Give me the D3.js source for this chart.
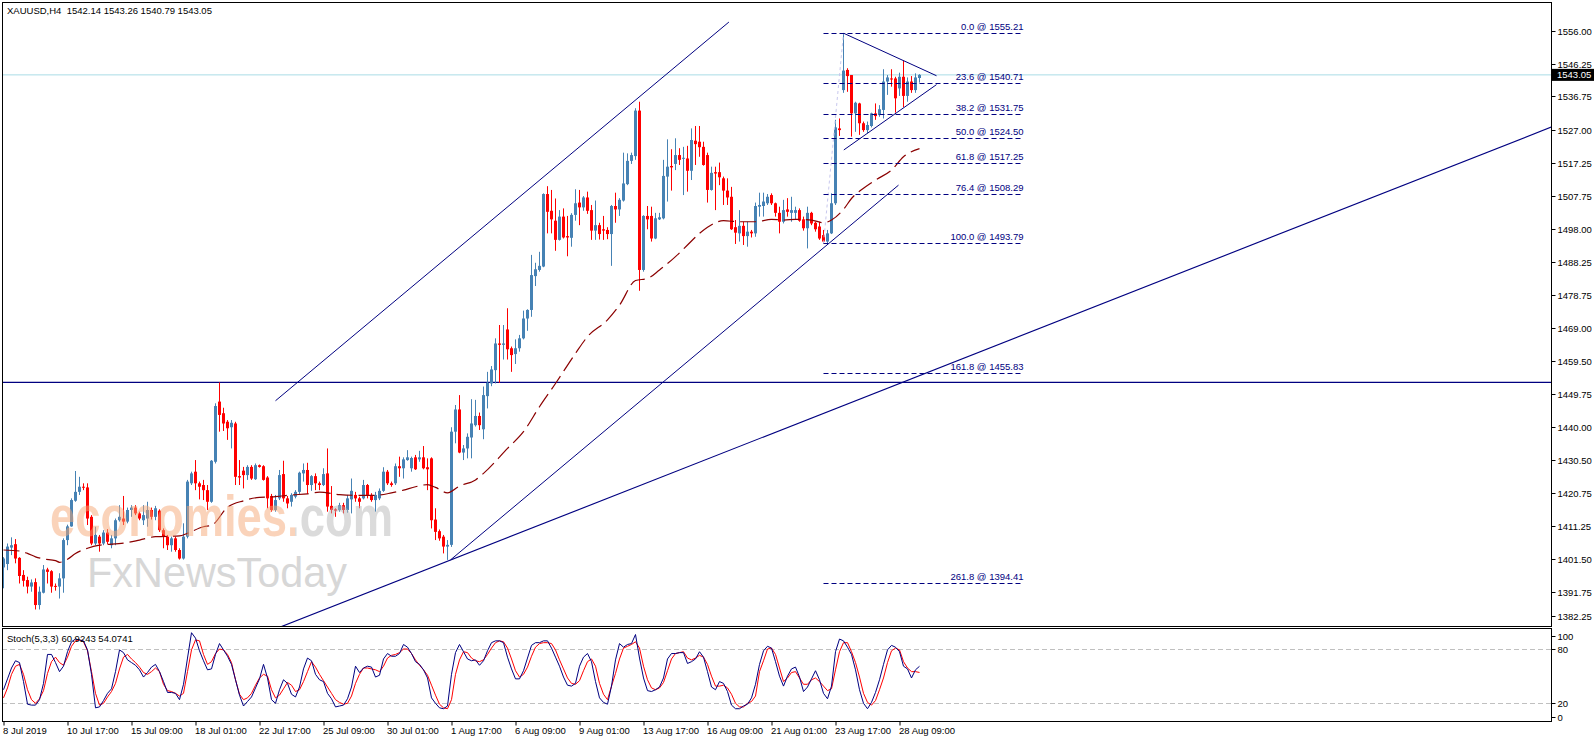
<!DOCTYPE html>
<html>
<head>
<meta charset="utf-8">
<script src="https://cdn.jsdelivr.net/npm/d3@7"></script>
<style>
  body { margin: 0; background: #fff; }
  svg { display: block; font-family: "Liberation Sans", Arial, sans-serif; }
</style>
</head>
<body>
<div id="chart"></div>
<script>
// Dados
const symbol = "XAUUSD,H4";
const lastQuote = [1542.14, 1543.26, 1540.79, 1543.05];
const stochName = "Stoch(5,3,3)";
const stochLast = ["60.9243", "54.0741"];

const opens = [
  1399.0, 1400.0, 1404.8, 1405.8, 1401.8, 1396.8, 1395.3, 1393.4, 1394.7, 1388.0,
  1391.6, 1398.4, 1397.9, 1393.6, 1393.4, 1395.8, 1407.0, 1411.0, 1418.5, 1421.1,
  1422.6, 1422.4, 1413.8, 1406.0, 1408.0, 1406.0, 1409.2, 1405.5, 1407.5, 1412.8,
  1413.3, 1412.4, 1415.8, 1416.5, 1414.8, 1412.8, 1413.3, 1415.8, 1413.8, 1415.6,
  1409.9, 1408.0, 1405.5, 1407.5, 1404.1, 1401.6, 1408.0, 1423.6, 1427.0, 1423.6,
  1423.1, 1421.6, 1418.2, 1429.9, 1447.5, 1444.1, 1441.6, 1440.0, 1441.1, 1425.7,
  1427.3, 1426.0, 1428.4, 1424.8, 1428.9, 1428.6, 1425.3, 1419.9, 1415.8, 1419.2,
  1426.3, 1419.2, 1418.2, 1419.7, 1421.1, 1426.5, 1427.5, 1423.1, 1425.7, 1423.6,
  1423.1, 1426.5, 1417.0, 1416.0, 1415.8, 1417.2, 1415.8, 1418.9, 1420.2, 1419.2,
  1419.2, 1423.1, 1420.2, 1418.7, 1419.2, 1421.4, 1427.0, 1423.6, 1423.6, 1428.6,
  1428.0, 1430.4, 1428.0, 1431.2, 1430.6, 1431.2, 1428.3, 1430.9, 1413.0, 1409.6,
  1408.0, 1405.1, 1405.6, 1438.7, 1445.2, 1432.6, 1433.8, 1437.0, 1440.6, 1443.3,
  1439.4, 1449.1, 1452.8, 1456.7, 1464.5, 1464.1, 1468.6, 1463.1, 1461.4, 1463.1,
  1466.0, 1471.8, 1474.3, 1484.2, 1486.0, 1487.0, 1508.2, 1503.3, 1500.4, 1494.8,
  1501.6, 1495.9, 1495.4, 1502.1, 1505.7, 1504.3, 1507.2, 1503.5, 1497.5, 1499.1,
  1497.9, 1497.7, 1496.5, 1504.7, 1503.7, 1506.3, 1511.1, 1517.9, 1519.3, 1532.6,
  1486.0, 1501.8, 1501.8, 1495.2, 1500.8, 1501.1, 1513.3, 1516.4, 1517.0, 1519.6,
  1518.5, 1518.6, 1515.0, 1523.8, 1523.5, 1522.0, 1519.6, 1509.4, 1514.6, 1514.6,
  1512.8, 1509.2, 1507.4, 1498.5, 1496.7, 1498.9, 1495.9, 1497.2, 1496.7, 1504.5,
  1504.7, 1505.5, 1507.9, 1505.5, 1502.7, 1500.1, 1503.7, 1502.7, 1502.7, 1503.5,
  1500.8, 1498.2, 1502.7, 1499.8, 1498.7, 1496.2, 1494.3, 1496.7, 1505.5, 1527.4,
  1538.6, 1544.5, 1543.0, 1531.8, 1534.7, 1528.9, 1526.9, 1528.1, 1531.8, 1531.3,
  1532.8, 1541.1, 1542.0, 1542.0, 1539.1, 1542.5, 1536.9, 1541.1, 1538.6, 1542.14
];
const highs = [
  1402.0, 1406.0, 1407.8, 1407.3, 1402.0, 1398.2, 1396.3, 1395.5, 1395.8, 1393.4,
  1399.7, 1398.9, 1398.2, 1394.3, 1397.3, 1407.5, 1411.5, 1419.2, 1427.2, 1425.5,
  1423.6, 1423.6, 1414.3, 1410.9, 1408.5, 1409.9, 1410.2, 1408.5, 1413.3, 1417.2,
  1419.9, 1416.5, 1417.2, 1417.2, 1415.3, 1417.2, 1418.2, 1416.5, 1417.0, 1416.0,
  1410.4, 1408.5, 1408.0, 1408.0, 1404.6, 1411.9, 1424.6, 1427.0, 1430.4, 1424.1,
  1424.6, 1423.1, 1430.4, 1447.0, 1453.1, 1445.7, 1442.1, 1442.1, 1441.6, 1430.4,
  1428.4, 1428.9, 1428.9, 1429.4, 1429.1, 1428.9, 1425.7, 1420.5, 1420.2, 1427.5,
  1430.2, 1419.9, 1420.7, 1421.6, 1427.0, 1429.4, 1429.6, 1426.0, 1426.5, 1424.1,
  1428.0, 1433.8, 1422.8, 1416.3, 1417.9, 1417.9, 1420.2, 1425.0, 1421.1, 1419.7,
  1424.6, 1423.4, 1420.7, 1421.1, 1422.1, 1428.3, 1427.5, 1424.1, 1429.4, 1431.4,
  1431.2, 1433.3, 1431.4, 1431.9, 1433.1, 1434.5, 1430.9, 1431.2, 1416.3, 1410.1,
  1408.5, 1407.0, 1440.0, 1446.5, 1449.4, 1434.8, 1438.2, 1448.2, 1448.0, 1444.3,
  1451.9, 1456.2, 1457.9, 1466.0, 1469.9, 1469.9, 1474.8, 1463.6, 1465.7, 1467.0,
  1474.1, 1474.5, 1490.4, 1488.1, 1491.3, 1508.4, 1510.5, 1509.4, 1506.9, 1503.5,
  1504.0, 1501.8, 1502.6, 1509.6, 1509.4, 1507.6, 1508.9, 1505.0, 1506.3, 1499.8,
  1501.8, 1498.5, 1505.0, 1508.6, 1507.0, 1520.3, 1520.1, 1520.3, 1533.3, 1535.2,
  1502.0, 1504.7, 1504.5, 1502.7, 1502.7, 1518.2, 1524.2, 1521.3, 1524.5, 1521.6,
  1522.0, 1522.3, 1527.4, 1528.1, 1528.1, 1523.5, 1520.3, 1516.2, 1516.2, 1517.4,
  1513.3, 1512.8, 1510.3, 1500.6, 1503.5, 1500.1, 1500.1, 1497.7, 1505.7, 1508.6,
  1508.6, 1508.2, 1508.4, 1505.7, 1504.5, 1506.5, 1507.0, 1507.4, 1504.5, 1504.0,
  1501.6, 1504.5, 1503.0, 1500.1, 1500.1, 1497.7, 1497.7, 1508.4, 1529.9, 1530.3,
  1555.21, 1545.0, 1543.0, 1535.2, 1534.9, 1529.4, 1529.4, 1532.0, 1534.7, 1534.2,
  1544.7, 1543.0, 1544.7, 1542.5, 1543.7, 1547.2, 1542.3, 1542.7, 1543.5, 1543.26
];
const lows = [
  1392.9, 1398.2, 1402.6, 1400.2, 1394.3, 1393.4, 1391.4, 1391.9, 1386.7, 1386.7,
  1391.4, 1394.3, 1391.6, 1392.2, 1389.9, 1391.6, 1405.5, 1410.9, 1418.2, 1420.2,
  1421.6, 1411.4, 1405.5, 1405.5, 1403.6, 1405.5, 1405.8, 1404.6, 1405.5, 1412.4,
  1411.4, 1411.9, 1413.8, 1414.3, 1412.8, 1411.4, 1410.9, 1413.0, 1412.8, 1409.4,
  1404.6, 1404.1, 1403.6, 1403.6, 1401.3, 1401.3, 1407.5, 1423.1, 1421.6, 1418.9,
  1418.7, 1415.8, 1417.9, 1429.4, 1438.7, 1438.9, 1436.3, 1433.8, 1423.1, 1423.1,
  1422.1, 1424.6, 1424.6, 1424.6, 1428.2, 1424.4, 1416.3, 1415.3, 1415.3, 1418.7,
  1418.2, 1416.3, 1416.8, 1419.2, 1420.5, 1424.1, 1420.5, 1421.4, 1421.6, 1421.6,
  1422.8, 1415.3, 1414.8, 1413.8, 1415.3, 1414.8, 1415.0, 1414.8, 1418.2, 1416.3,
  1418.9, 1419.2, 1418.2, 1415.3, 1418.7, 1421.1, 1423.1, 1422.6, 1423.1, 1425.5,
  1425.0, 1430.2, 1427.0, 1427.5, 1429.9, 1427.7, 1421.6, 1410.4, 1407.0, 1406.8,
  1403.1, 1401.2, 1405.0, 1435.3, 1432.4, 1430.4, 1430.9, 1430.9, 1440.2, 1439.2,
  1436.5, 1445.5, 1452.0, 1452.8, 1453.0, 1459.8, 1459.8, 1456.2, 1458.5, 1462.1,
  1465.7, 1468.2, 1472.3, 1481.3, 1485.5, 1486.8, 1496.7, 1496.7, 1491.6, 1494.6,
  1495.2, 1490.0, 1492.8, 1500.4, 1499.1, 1503.3, 1502.4, 1494.8, 1494.8, 1494.9,
  1494.8, 1495.0, 1487.2, 1499.8, 1501.8, 1506.0, 1510.8, 1517.0, 1518.2, 1479.9,
  1485.5, 1497.9, 1494.3, 1495.0, 1500.6, 1500.8, 1506.0, 1509.2, 1515.2, 1516.7,
  1507.9, 1508.9, 1512.3, 1516.7, 1519.1, 1516.5, 1505.7, 1509.2, 1503.5, 1510.8,
  1505.0, 1505.0, 1497.7, 1493.6, 1494.3, 1493.3, 1492.8, 1495.5, 1495.7, 1501.6,
  1501.6, 1505.0, 1505.0, 1501.6, 1496.7, 1499.6, 1501.6, 1500.1, 1500.6, 1500.1,
  1497.5, 1492.3, 1499.1, 1497.2, 1494.8, 1493.79, 1493.8, 1496.5, 1505.0, 1525.2,
  1537.8, 1538.1, 1525.0, 1526.4, 1525.5, 1526.4, 1526.0, 1527.7, 1529.9, 1530.8,
  1530.3, 1537.2, 1539.6, 1532.0, 1536.9, 1533.6, 1535.2, 1537.8, 1537.8, 1540.79
];
const closes = [
  1401.6, 1405.1, 1405.5, 1401.6, 1396.5, 1395.1, 1393.4, 1394.6, 1388.0, 1391.9,
  1398.4, 1397.7, 1393.4, 1393.4, 1395.8, 1407.0, 1411.0, 1418.7, 1421.1, 1422.6,
  1422.4, 1413.3, 1406.0, 1408.5, 1406.0, 1409.2, 1406.5, 1407.5, 1412.8, 1413.8,
  1412.4, 1415.8, 1416.5, 1414.8, 1413.3, 1414.3, 1415.8, 1413.8, 1416.3, 1409.9,
  1408.0, 1405.5, 1407.5, 1404.1, 1401.6, 1408.0, 1424.1, 1426.5, 1423.6, 1422.6,
  1421.6, 1418.2, 1430.2, 1446.2, 1443.6, 1441.1, 1439.7, 1441.3, 1425.5, 1425.3,
  1426.0, 1428.4, 1425.0, 1428.9, 1428.4, 1424.6, 1419.2, 1415.8, 1418.7, 1426.0,
  1419.2, 1417.7, 1420.2, 1421.1, 1426.7, 1427.5, 1423.1, 1425.7, 1423.6, 1423.1,
  1426.3, 1416.8, 1415.8, 1415.6, 1417.2, 1415.8, 1419.2, 1421.4, 1419.2, 1418.2,
  1423.1, 1420.2, 1418.7, 1420.2, 1421.4, 1427.0, 1423.6, 1423.1, 1428.6, 1428.0,
  1430.6, 1431.2, 1431.0, 1427.7, 1431.2, 1428.0, 1427.7, 1412.8, 1409.4, 1407.5,
  1405.1, 1405.6, 1438.7, 1445.2, 1432.6, 1433.8, 1437.2, 1441.1, 1443.3, 1440.6,
  1449.4, 1453.0, 1456.9, 1464.5, 1464.1, 1464.5, 1462.8, 1461.1, 1463.1, 1466.0,
  1471.8, 1474.3, 1484.5, 1486.2, 1487.2, 1508.2, 1503.0, 1500.8, 1494.8, 1501.6,
  1495.5, 1495.5, 1502.1, 1505.5, 1504.3, 1507.2, 1503.3, 1497.5, 1499.1, 1496.5,
  1497.5, 1496.5, 1504.7, 1503.7, 1506.5, 1511.3, 1517.9, 1519.6, 1532.6, 1486.0,
  1501.8, 1500.8, 1495.2, 1501.1, 1501.4, 1513.5, 1516.2, 1516.0, 1519.6, 1518.2,
  1518.8, 1515.0, 1524.0, 1522.8, 1521.9, 1516.7, 1509.4, 1514.4, 1514.2, 1513.1,
  1509.2, 1507.2, 1497.9, 1496.9, 1498.9, 1495.9, 1497.2, 1496.7, 1504.7, 1505.0,
  1506.0, 1507.4, 1505.5, 1502.7, 1500.1, 1503.5, 1503.0, 1503.5, 1503.5, 1500.4,
  1498.2, 1502.7, 1499.6, 1497.9, 1495.2, 1494.3, 1496.7, 1505.5, 1527.7, 1526.9,
  1544.3, 1542.7, 1531.8, 1534.9, 1528.9, 1526.9, 1528.4, 1531.8, 1531.0, 1533.0,
  1541.1, 1542.3, 1541.7, 1536.2, 1542.5, 1536.9, 1541.1, 1538.6, 1542.3, 1543.05
];

// Média móvel: [barra, preço]
const maPoints = [
  [0, 1404.1], [4, 1403.8], [6, 1403.1], [8, 1402.1], [10, 1401.5], [13, 1401.0],
  [14, 1400.5], [16, 1401.4], [18, 1403.1], [21, 1404.6], [24, 1405.5], [30, 1406.1],
  [34, 1407.0], [38, 1408.0], [44, 1408.2], [46, 1409.0], [50, 1410.9], [52, 1411.3],
  [56, 1416.6], [60, 1418.5], [64, 1419.5], [68, 1419.7], [72, 1420.2], [76, 1420.5],
  [79, 1421.0], [84, 1420.3], [88, 1420.1], [93, 1420.1], [97, 1420.8], [100, 1421.6],
  [103, 1422.6], [106, 1423.2], [108, 1422.4], [111, 1420.8], [114, 1422.8], [118, 1424.6],
  [120, 1426.5], [126, 1433.8], [130, 1438.7], [134, 1446.0], [138, 1452.8], [143, 1461.6],
  [146, 1466.5], [151, 1471.4], [154, 1475.7], [158, 1482.9], [161, 1483.5], [164, 1486.0],
  [168, 1489.9], [171, 1493.3], [174, 1496.7], [176, 1498.5], [180, 1500.4], [184, 1500.1],
  [188, 1500.1], [192, 1500.8], [195, 1500.6], [198, 1500.8], [202, 1500.6], [205, 1499.8],
  [207, 1500.6], [210, 1503.7], [212, 1506.9], [215, 1509.9], [218, 1512.3], [222, 1515.2],
  [225, 1519.1], [229, 1521.5]
];

const stochK = [
  35, 47, 59, 67, 65, 44, 19, 18, 18, 24,
  42, 74, 74, 65, 55, 61, 77, 88, 91, 90,
  89, 79, 52, 15, 16, 23, 31, 36, 55, 79,
  76, 68, 65, 62, 57, 49, 54, 60, 63, 55,
  44, 32, 32, 31, 24, 41, 70, 98, 92, 78,
  67, 57, 58, 74, 86, 79, 72, 63, 46, 29,
  17, 22, 27, 37, 47, 63, 48, 24, 20, 35,
  46, 42, 30, 27, 38, 58, 70, 67, 52, 46,
  44, 31, 25, 16, 17, 18, 25, 38, 61, 54,
  59, 61, 60, 49, 51, 69, 75, 72, 72, 75,
  85, 82, 75, 66, 63, 57, 48, 26, 20, 15,
  14, 17, 52, 76, 85, 77, 69, 67, 68, 62,
  67, 78, 87, 89, 89, 87, 71, 58, 47, 47,
  56, 70, 84, 87, 87, 89, 89, 81, 71, 61,
  49, 40, 39, 42, 61, 71, 75, 66, 44, 26,
  21, 19, 39, 68, 86, 82, 85, 86, 96, 70,
  48, 34, 33, 35, 38, 48, 69, 75, 75, 76,
  76, 64, 66, 69, 77, 71, 55, 38, 35, 44,
  42, 33, 18, 14, 14, 17, 19, 26, 41, 63,
  78, 83, 81, 66, 50, 39, 50, 58, 60, 49,
  33, 38, 47, 56, 46, 31, 25, 39, 77, 91,
  89, 82, 74, 57, 35, 20, 14, 21, 32, 46,
  63, 79, 84, 82, 77, 61, 58, 48, 57, 60.92
];
const stochD = [
  26, 37, 52, 61, 63, 52, 35, 24, 20, 25,
  34, 53, 66, 71, 65, 62, 71, 83, 89, 90,
  88, 78, 55, 31, 18, 20, 27, 33, 42, 58,
  71, 74, 69, 65, 60, 54, 52, 55, 59, 55,
  41, 34, 33, 31, 28, 31, 55, 79, 90, 89,
  74, 63, 66, 75, 80, 79, 74, 65, 46, 30,
  24, 26, 31, 40, 48, 52, 50, 35, 26, 29,
  36, 43, 40, 33, 35, 44, 55, 66, 60, 52,
  45, 38, 31, 24, 21, 19, 20, 28, 42, 52,
  59, 59, 58, 57, 55, 61, 70, 73, 74, 76,
  80, 80, 75, 68, 62, 57, 51, 40, 29, 19,
  15, 14, 24, 52, 68, 77, 76, 70, 67, 66,
  68, 74, 81, 87, 89, 88, 81, 69, 56, 49,
  52, 60, 72, 82, 86, 87, 87, 86, 79, 68,
  58, 48, 42, 41, 45, 56, 66, 69, 61, 42,
  30, 24, 39, 53, 69, 81, 83, 85, 88, 81,
  61, 46, 37, 35, 37, 43, 56, 69, 75, 76,
  77, 70, 68, 70, 73, 71, 63, 50, 39, 39,
  40, 37, 30, 20, 16, 16, 20, 22, 28, 55,
  67, 80, 81, 74, 59, 44, 48, 54, 55, 48,
  41, 41, 46, 48, 44, 39, 34, 36, 57, 77,
  87, 87, 77, 65, 49, 31, 21, 18, 23, 35,
  48, 65, 78, 81, 79, 66, 59, 55, 55, 54.07
];

const priceTicks = [1556.00, 1546.25, 1536.75, 1527.00, 1517.25, 1507.75, 1498.00, 1488.25, 1478.75,
  1469.00, 1459.50, 1449.75, 1440.00, 1430.50, 1420.75, 1411.25, 1401.50, 1391.75, 1382.25];
const stochTicks = [100, 80, 20, 0];
const stochLevels = [80, 20];
const dateLabels = ["8 Jul 2019", "10 Jul 17:00", "15 Jul 09:00", "18 Jul 01:00", "22 Jul 17:00",
  "25 Jul 09:00", "30 Jul 01:00", "1 Aug 17:00", "6 Aug 09:00", "9 Aug 01:00", "13 Aug 17:00",
  "16 Aug 09:00", "21 Aug 01:00", "23 Aug 17:00", "28 Aug 09:00"];
const barsPerLabel = 16;

// Objetos desenhados: linhas de tendência [barra, preço]
const trendLines = [
  [[68, 1447.75], [181.35, 1558.5]],
  [[111.75, 1401.2], [223.75, 1510.8]],
  [[69.25, 1381.6], [387, 1527.8]],
  [[210.08, 1555.2], [233.25, 1542.8]],
  [[210.08, 1521.1], [233.25, 1540.2]]
];
const horizontalLevel = 1453.1;
const fibLevels = [0.0, 23.6, 38.2, 50.0, 61.8, 76.4, 100.0, 161.8, 261.8];
const fibPrices = [1555.21, 1540.71, 1531.75, 1524.50, 1517.25, 1508.29, 1493.79, 1455.83, 1394.41];
const fibBars = [205, 255];
const fibAnchor = [[205, 1493.79], [210, 1555.21]];

// Configurações
const W = 1596, H = 743;
const panel = { left: 2, right: 1551, top: 2, bottom: 626, subTop: 628, subBottom: 721 };
const upColor = "#4682B4", downColor = "#FF0000", objColor = "#000080";
const fontSize = "9.5px";

const svg = d3.select("#chart")
    .append("svg")
    .attr("width", W)
    .attr("height", H);

// Escalas
const x = d3.scaleLinear().domain([0, 229]).range([3.5, 919.5]);
const y = d3.scaleLinear().domain([1556, 1382.25]).range([30.6, 624.7]);
const ys = d3.scaleLinear().domain([100, 0]).range([630.9, 721.4]);

const defs = svg.append("defs");
defs.append("clipPath").attr("id", "clipMain").append("rect")
    .attr("x", panel.left).attr("y", panel.top)
    .attr("width", panel.right - panel.left).attr("height", panel.bottom - panel.top);
defs.append("clipPath").attr("id", "clipSub").append("rect")
    .attr("x", panel.left).attr("y", panel.subTop)
    .attr("width", panel.right - panel.left).attr("height", panel.subBottom - panel.subTop);

// Gradiente da marca d'água: laranja em "economies", cinza em ".com"
const grad = defs.append("linearGradient")
    .attr("id", "wmGrad")
    .attr("gradientUnits", "userSpaceOnUse")
    .attr("x1", 50).attr("x2", 393).attr("y1", 0).attr("y2", 0);
grad.append("stop").attr("offset", 0.715).attr("stop-color", "#f7a877");
grad.append("stop").attr("offset", 0.715).attr("stop-color", "#b8b8b8");

const gMain = svg.append("g").attr("clip-path", "url(#clipMain)");
const gSub = svg.append("g").attr("clip-path", "url(#clipSub)");

// Linha do preço atual
gMain.append("line")
    .attr("x1", panel.left).attr("x2", panel.right)
    .attr("y1", y(lastQuote[3])).attr("y2", y(lastQuote[3]))
    .attr("stroke", "#a9dce6").attr("stroke-width", 1);

// Linha horizontal
gMain.append("line")
    .attr("x1", panel.left).attr("x2", panel.right)
    .attr("y1", y(horizontalLevel)).attr("y2", y(horizontalLevel))
    .attr("stroke", objColor).attr("stroke-width", 1.2);

// Velas
const bars = closes.map((c, i) => ({ i, o: opens[i], h: highs[i], l: lows[i], c }));
const color = d => d.c >= d.o ? upColor : downColor;

gMain.selectAll(".wick")
    .data(bars)
    .enter()
    .append("line")
    .attr("x1", d => x(d.i)).attr("x2", d => x(d.i))
    .attr("y1", d => y(d.h)).attr("y2", d => y(d.l))
    .attr("stroke", color)
    .attr("stroke-width", 1);

gMain.selectAll(".body")
    .data(bars)
    .enter()
    .append("rect")
    .attr("x", d => x(d.i) - 1.5)
    .attr("width", 3)
    .attr("y", d => y(Math.max(d.o, d.c)))
    .attr("height", d => Math.max(1, Math.abs(y(d.o) - y(d.c))))
    .attr("fill", color);

// Média móvel
gMain.append("path")
    .datum(maPoints)
    .attr("fill", "none")
    .attr("stroke", "#8B0000")
    .attr("stroke-width", 1.2)
    .attr("stroke-dasharray", "16,6")
    .attr("d", d3.line().x(d => x(d[0])).y(d => y(d[1])).curve(d3.curveMonotoneX));

// Linhas de tendência
gMain.selectAll(".trend")
    .data(trendLines)
    .enter()
    .append("line")
    .attr("x1", d => x(d[0][0])).attr("y1", d => y(d[0][1]))
    .attr("x2", d => x(d[1][0])).attr("y2", d => y(d[1][1]))
    .attr("stroke", objColor)
    .attr("stroke-width", (d, i) => i === 2 ? 1.15 : 1);

// Fibonacci
gMain.append("line")
    .attr("x1", x(fibAnchor[0][0])).attr("y1", y(fibAnchor[0][1]))
    .attr("x2", x(fibAnchor[1][0])).attr("y2", y(fibAnchor[1][1]))
    .attr("stroke", "#c8c8ee").attr("stroke-dasharray", "3,3");

gMain.selectAll(".fib")
    .data(fibPrices)
    .enter()
    .append("line")
    .attr("x1", x(fibBars[0])).attr("x2", x(fibBars[1]))
    .attr("y1", d => Math.round(y(d)) + 0.5).attr("y2", d => Math.round(y(d)) + 0.5)
    .attr("stroke", objColor)
    .attr("stroke-width", 1.2)
    .attr("stroke-dasharray", "5,3");

gMain.selectAll(".fibLabel")
    .data(fibPrices)
    .enter()
    .append("text")
    .attr("x", x(fibBars[1]))
    .attr("y", d => y(d) - 3)
    .attr("text-anchor", "end")
    .attr("font-size", fontSize)
    .attr("fill", objColor)
    .text((d, i) => `${fibLevels[i].toFixed(1)} @ ${d.toFixed(2)}`);

// Estocástico
gSub.selectAll(".level")
    .data(stochLevels)
    .enter()
    .append("line")
    .attr("x1", panel.left).attr("x2", panel.right)
    .attr("y1", d => Math.round(ys(d)) + 0.5).attr("y2", d => Math.round(ys(d)) + 0.5)
    .attr("stroke", "#c0c0c0")
    .attr("stroke-dasharray", "5,3");

const stochLine = d3.line().x((d, i) => x(i)).y(d => ys(d));
gSub.append("path").datum(stochD)
    .attr("fill", "none").attr("stroke", "#FF0000").attr("stroke-width", 1)
    .attr("d", stochLine);
gSub.append("path").datum(stochK)
    .attr("fill", "none").attr("stroke", "#000080").attr("stroke-width", 1)
    .attr("d", stochLine);

// Marca d'água
const wm = svg.append("g").attr("opacity", 0.5).style("pointer-events", "none");
wm.append("text")
    .attr("x", 50).attr("y", 536)
    .attr("font-size", 58)
    .attr("font-weight", "bold")
    .attr("textLength", 343).attr("lengthAdjust", "spacingAndGlyphs")
    .attr("fill", "url(#wmGrad)")
    .text("economies.com");
wm.append("text")
    .attr("x", 87).attr("y", 587)
    .attr("font-size", 43)
    .attr("textLength", 260).attr("lengthAdjust", "spacingAndGlyphs")
    .attr("fill", "#b0b0b0")
    .text("FxNewsToday");

// Molduras
svg.append("rect")
    .attr("x", panel.left + 0.5).attr("y", panel.top + 0.5)
    .attr("width", panel.right - panel.left).attr("height", panel.bottom - panel.top)
    .attr("fill", "none").attr("stroke", "#000");
svg.append("rect")
    .attr("x", panel.left + 0.5).attr("y", panel.subTop + 0.5)
    .attr("width", panel.right - panel.left).attr("height", panel.subBottom - panel.subTop)
    .attr("fill", "none").attr("stroke", "#000");

// Eixos
const yAxis = d3.axisRight(y).tickValues(priceTicks).tickSize(4).tickPadding(2)
    .tickFormat(d3.format(".2f"));
const gy = svg.append("g")
    .attr("transform", `translate(${panel.right + 0.5},0)`)
    .call(yAxis);
gy.select(".domain").remove();
gy.selectAll(".tick")
    .attr("transform", d => `translate(0,${Math.round(Math.min(y(d), panel.bottom - 10)) + 0.5})`);
gy.selectAll("text").attr("font-size", fontSize).attr("font-family", "Liberation Sans, Arial");

const ysAxis = d3.axisRight(ys).tickValues(stochTicks).tickSize(4).tickPadding(2);
const gys = svg.append("g")
    .attr("transform", `translate(${panel.right + 0.5},0)`)
    .call(ysAxis);
gys.select(".domain").remove();
gys.selectAll(".tick")
    .attr("transform", d => `translate(0,${Math.round(Math.max(panel.subTop + 8, Math.min(ys(d), panel.subBottom - 4))) + 0.5})`);
gys.selectAll("text").attr("font-size", fontSize).attr("font-family", "Liberation Sans, Arial");

const xAxis = d3.axisBottom(x)
    .tickValues(dateLabels.map((d, i) => i * barsPerLabel))
    .tickFormat(d => dateLabels[d / barsPerLabel])
    .tickSize(4).tickPadding(2);
const gx = svg.append("g")
    .attr("transform", `translate(0,${panel.subBottom + 0.5})`)
    .call(xAxis);
gx.select(".domain").remove();
gx.selectAll("text")
    .attr("text-anchor", "start")
    .attr("x", -1)
    .attr("font-size", fontSize)
    .attr("font-family", "Liberation Sans, Arial");

// Etiqueta do preço atual
const yq = y(lastQuote[3]);
svg.append("rect")
    .attr("x", panel.right).attr("y", yq - 6)
    .attr("width", 43).attr("height", 12)
    .attr("fill", "#000");
svg.append("text")
    .attr("x", panel.right + 6).attr("y", yq)
    .attr("dy", "0.35em")
    .attr("font-size", fontSize)
    .attr("fill", "#fff")
    .text(lastQuote[3].toFixed(2));

// Títulos
svg.append("text")
    .attr("x", 7).attr("y", 14)
    .attr("font-size", fontSize)
    .style("white-space", "pre")
    .text(`${symbol}  ${lastQuote.map(v => v.toFixed(2)).join(" ")}`);
svg.append("text")
    .attr("x", 7).attr("y", 642)
    .attr("font-size", fontSize)
    .style("white-space", "pre")
    .text(`${stochName} ${stochLast.join(" ")}`);
</script>
</body>
</html>
